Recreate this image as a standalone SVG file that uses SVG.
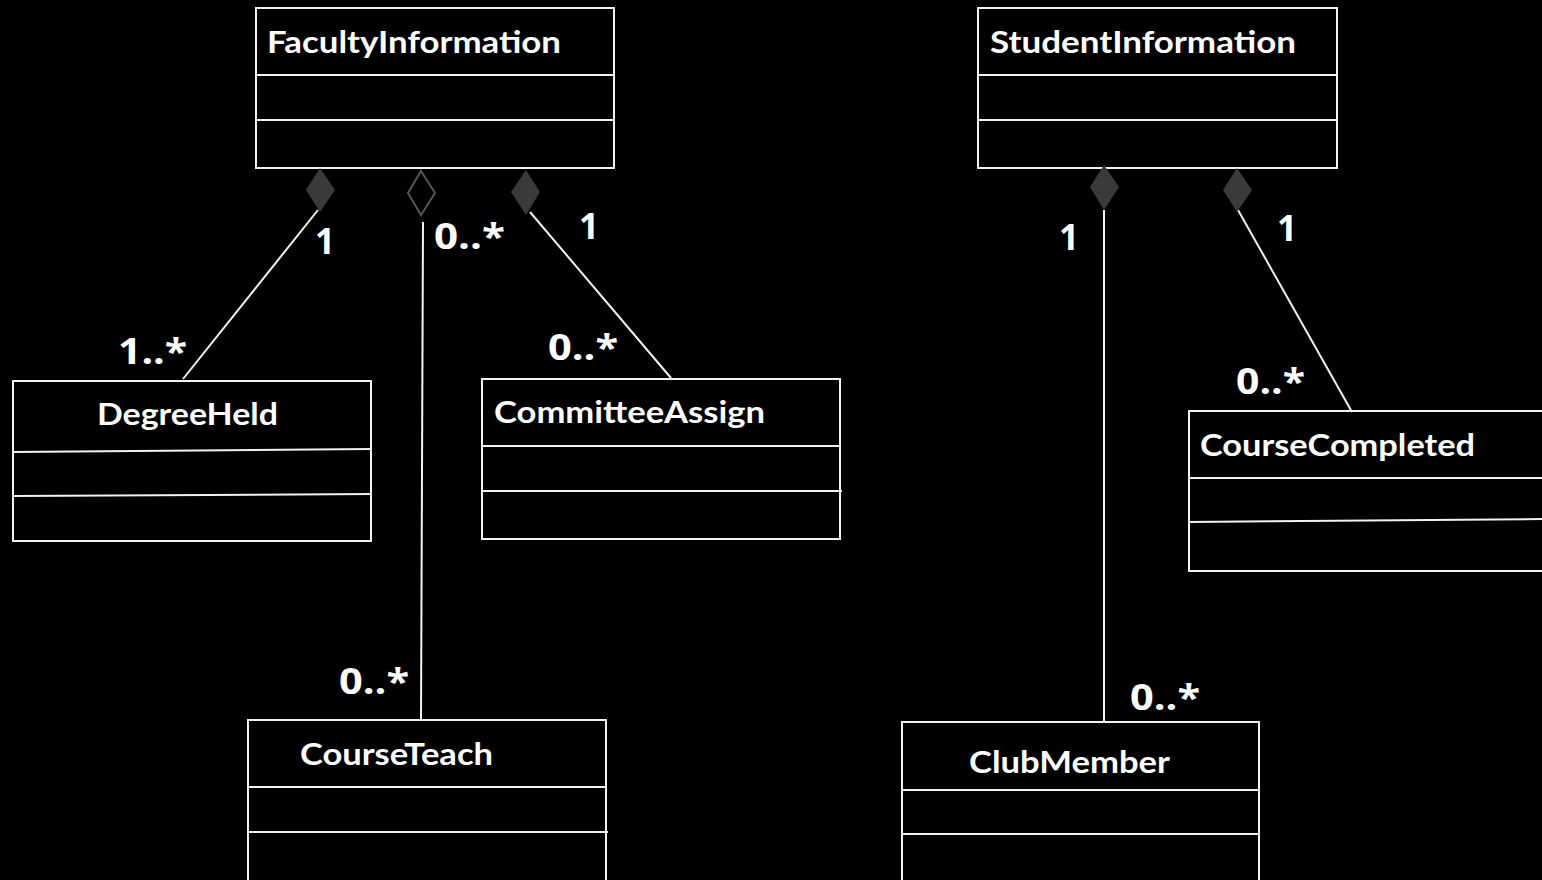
<svg xmlns="http://www.w3.org/2000/svg" width="1542" height="880" viewBox="0 0 1542 880">
  <style>
    .box { fill: #000; stroke: #f2f2f2; stroke-width: 2; }
    .div { stroke: #f2f2f2; stroke-width: 2; fill: none; }
    .name { font-family: Lato, "Open Sans", "Liberation Sans", sans-serif; font-weight: 700; font-size: 30px; fill: #fff; }
    .mult { font-family: "Open Sans", "Noto Sans", "Liberation Sans", sans-serif; font-weight: 700; font-size: 35px; fill: #fff; }
    .link { stroke: #f2f2f2; stroke-width: 2; fill: none; }
    .comp { fill: #3a3a3a; stroke: none; }
    .aggr { fill: #000; stroke: #555; stroke-width: 2; }
  </style>
  <rect width="1542" height="880" fill="#000"/>

  <!-- classes -->
  <g id="FacultyInformation">
    <rect class="box" x="256" y="8" width="358" height="160"/>
    <line class="div" x1="256" y1="75" x2="614" y2="75"/>
    <line class="div" x1="256" y1="120" x2="615" y2="120"/>
    <text class="name" x="267" y="53" textLength="294" lengthAdjust="spacingAndGlyphs">FacultyInformation</text>
  </g>
  <g id="StudentInformation">
    <rect class="box" x="978" y="8" width="359" height="160"/>
    <line class="div" x1="978" y1="75" x2="1337" y2="75"/>
    <line class="div" x1="978" y1="120" x2="1338" y2="120"/>
    <text class="name" x="990" y="53" textLength="306" lengthAdjust="spacingAndGlyphs">StudentInformation</text>
  </g>
  <g id="DegreeHeld">
    <rect class="box" x="13" y="381" width="358" height="160"/>
    <line class="div" x1="13" y1="452" x2="371" y2="449"/>
    <line class="div" x1="13" y1="496" x2="372" y2="494"/>
    <text class="name" x="97" y="425" textLength="181" lengthAdjust="spacingAndGlyphs">DegreeHeld</text>
  </g>
  <g id="CommitteeAssign">
    <rect class="box" x="482" y="379" width="358" height="160"/>
    <line class="div" x1="482" y1="446" x2="840" y2="446"/>
    <line class="div" x1="482" y1="491" x2="842" y2="491"/>
    <text class="name" x="494" y="423" textLength="271" lengthAdjust="spacingAndGlyphs">CommitteeAssign</text>
  </g>
  <g id="CourseTeach">
    <rect class="box" x="248" y="720" width="358" height="170"/>
    <line class="div" x1="248" y1="787" x2="606" y2="787"/>
    <line class="div" x1="248" y1="832" x2="608" y2="832"/>
    <text class="name" x="300" y="765" textLength="193" lengthAdjust="spacingAndGlyphs">CourseTeach</text>
  </g>
  <g id="CourseCompleted">
    <rect class="box" x="1189" y="411" width="370" height="160"/>
    <line class="div" x1="1189" y1="478" x2="1542" y2="478"/>
    <line class="div" x1="1189" y1="522" x2="1542" y2="519"/>
    <text class="name" x="1200" y="456" textLength="275" lengthAdjust="spacingAndGlyphs">CourseCompleted</text>
  </g>
  <g id="ClubMember">
    <rect class="box" x="902" y="722" width="357" height="170"/>
    <line class="div" x1="902" y1="790" x2="1259" y2="790"/>
    <line class="div" x1="902" y1="834" x2="1260" y2="834"/>
    <text class="name" x="969" y="773" textLength="201" lengthAdjust="spacingAndGlyphs">ClubMember</text>
  </g>

  <!-- associations -->
  <g id="connectors">
    <line class="link" x1="318" y1="210" x2="183" y2="379"/>
    <polygon class="comp" points="320,168 335,190 320,212 306,190"/>
    <line class="link" x1="423" y1="222" x2="421" y2="720"/>
    <polygon class="aggr" points="421,171 435,193 421,215 408,193"/>
    <line class="link" x1="530" y1="212" x2="671" y2="378"/>
    <polygon class="comp" points="526,170 540,192 526,215 511,192"/>
    <line class="link" x1="1104" y1="210" x2="1104" y2="722"/>
    <polygon class="comp" points="1104,165 1119,187 1104,210 1090,187"/>
    <line class="link" x1="1238" y1="210" x2="1352" y2="412"/>
    <polygon class="comp" points="1237,168 1252,190 1237,212 1223,190"/>
  </g>

  <!-- multiplicities -->
  <g id="labels">
    <text class="mult" x="315" y="254">1</text>
    <text class="mult" x="434" y="249" textLength="71" lengthAdjust="spacingAndGlyphs">0..*</text>
    <text class="mult" x="579" y="239">1</text>
    <text class="mult" x="118" y="364" textLength="69" lengthAdjust="spacingAndGlyphs">1..*</text>
    <text class="mult" x="548" y="360" textLength="70" lengthAdjust="spacingAndGlyphs">0..*</text>
    <text class="mult" x="339" y="694" textLength="70" lengthAdjust="spacingAndGlyphs">0..*</text>
    <text class="mult" x="1059" y="250">1</text>
    <text class="mult" x="1277" y="241">1</text>
    <text class="mult" x="1236" y="394" textLength="69" lengthAdjust="spacingAndGlyphs">0..*</text>
    <text class="mult" x="1130" y="710" textLength="70" lengthAdjust="spacingAndGlyphs">0..*</text>
  </g>
</svg>
